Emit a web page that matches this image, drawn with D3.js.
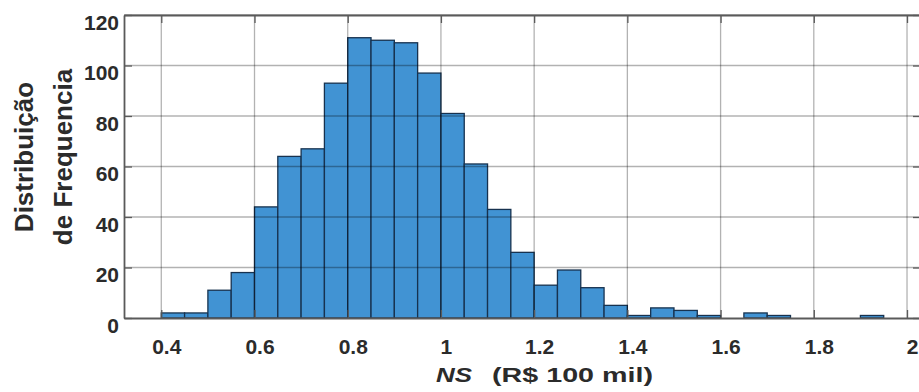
<!DOCTYPE html>
<html>
<head>
<meta charset="utf-8">
<script src="https://cdn.jsdelivr.net/npm/d3@7"></script>
<style>
  body { margin: 0; background: #fff; }
  text { font-family: "Liberation Sans", Arial, sans-serif; font-weight: bold; fill: #2b2b2b; }
</style>
</head>
<body>
<svg id="chart" width="919" height="392"></svg>
<script>
// Histogram data: left edges of the bins (width 0.05) and the counts
var binStarts = [0.40, 0.45, 0.50, 0.55, 0.60, 0.65, 0.70, 0.75, 0.80, 0.85,
                 0.90, 0.95, 1.00, 1.05, 1.10, 1.15, 1.20, 1.25, 1.30, 1.35,
                 1.40, 1.45, 1.50, 1.55, 1.60, 1.65, 1.70, 1.75, 1.80, 1.85, 1.90];
var binWidth = 0.05;
var counts = [2, 2, 11, 18, 44, 64, 67, 93, 111, 110,
              109, 97, 81, 61, 43, 26, 13, 19, 12, 5,
              1, 4, 3, 1, 0, 2, 1, 0, 0, 0, 1];

var xTicks = [0.4, 0.6, 0.8, 1, 1.2, 1.4, 1.6, 1.8, 2];
var yTicks = [0, 20, 40, 60, 80, 100, 120];

var yLabelLines = ["Distribuição", "de Frequencia"];

var svg = d3.select("#chart");

// plot box (right side runs just past the picture edge)
var boxLeft = 124, boxRight = 921, boxTop = 15, boxBottom = 318;

var x = d3.scaleLinear()
  .domain([0.32, 2.03])
  .range([boxLeft, boxRight]);

var y = d3.scaleLinear()
  .domain([0, 120])
  .range([boxBottom, boxTop]);

var data = binStarts.map((b, i) => ({ x0: b, x1: b + binWidth, n: counts[i] }));

// Bars
svg.append("g")
  .selectAll("rect")
  .data(data.filter(d => d.n > 0))
  .enter().append("rect")
    .attr("x", d => x(d.x0))
    .attr("y", d => y(d.n))
    .attr("width", d => x(d.x1) - x(d.x0))
    .attr("height", d => y(0) - y(d.n))
    .attr("fill", "#4193d3")
    .attr("stroke", "#17324f")
    .attr("stroke-width", 1.3);

// Grid lines on top (semi transparent, so they show through the bars)
var grid = svg.append("g").attr("stroke", "#000").attr("stroke-opacity", 0.3).attr("stroke-width", 1.3);

grid.selectAll(".vgrid")
  .data(xTicks)
  .enter().append("line")
    .attr("class", "vgrid")
    .attr("x1", d => x(d)).attr("x2", d => x(d))
    .attr("y1", boxTop).attr("y2", boxBottom);

grid.selectAll(".hgrid")
  .data(yTicks.slice(1))
  .enter().append("line")
    .attr("class", "hgrid")
    .attr("x1", boxLeft).attr("x2", boxRight)
    .attr("y1", d => y(d)).attr("y2", d => y(d));

// Axes with inward ticks
var tickLen = 8;

var yAxis = svg.append("g")
  .attr("transform", `translate(${boxLeft},0)`)
  .call(d3.axisLeft(y)
    .tickValues(yTicks)
    .tickSizeInner(-tickLen)
    .tickSizeOuter(0)
    .tickPadding(5));

yAxis.selectAll("text")
  .attr("font-size", 21)
  .attr("dy", "0.67em");

var xAxis = svg.append("g")
  .attr("transform", `translate(0,${boxBottom})`)
  .call(d3.axisBottom(x)
    .tickValues(xTicks)
    .tickFormat(d3.format("~g"))
    .tickSizeInner(-tickLen)
    .tickSizeOuter(0)
    .tickPadding(21));

xAxis.selectAll("text")
  .attr("font-size", 21)
  .attr("dx", 5);

// top and right box lines with ticks
svg.append("g")
  .attr("transform", `translate(0,${boxTop})`)
  .call(d3.axisTop(x).tickValues(xTicks).tickSizeInner(-tickLen).tickSizeOuter(0).tickFormat(""));

svg.append("g")
  .attr("transform", `translate(${boxRight},0)`)
  .call(d3.axisRight(y).tickValues(yTicks).tickSizeInner(-tickLen).tickSizeOuter(0).tickFormat(""));

svg.selectAll(".domain").attr("stroke", "#5a5a5a").attr("stroke-width", 1.8);
svg.selectAll(".tick line").attr("stroke", "#5a5a5a").attr("stroke-width", 1.3);

// Y label, two rotated lines
var yLab = svg.append("g")
  .attr("transform", "translate(0,157) rotate(-90)");

yLab.selectAll("text")
  .data(yLabelLines)
  .enter().append("text")
    .attr("x", 0)
    .attr("y", (d, i) => 33 + i * 39)
    .attr("text-anchor", "middle")
    .attr("font-size", 26)
    .text(d => d);

// X label
svg.append("text")
  .attr("x", 436)
  .attr("y", 382)
  .attr("font-size", 21)
  .attr("font-style", "italic")
  .attr("textLength", 36)
  .attr("lengthAdjust", "spacingAndGlyphs")
  .text("NS");

svg.append("text")
  .attr("x", 492)
  .attr("y", 382)
  .attr("font-size", 21)
  .attr("textLength", 161)
  .attr("lengthAdjust", "spacingAndGlyphs")
  .text("(R$ 100 mil)");
</script>
</body>
</html>
